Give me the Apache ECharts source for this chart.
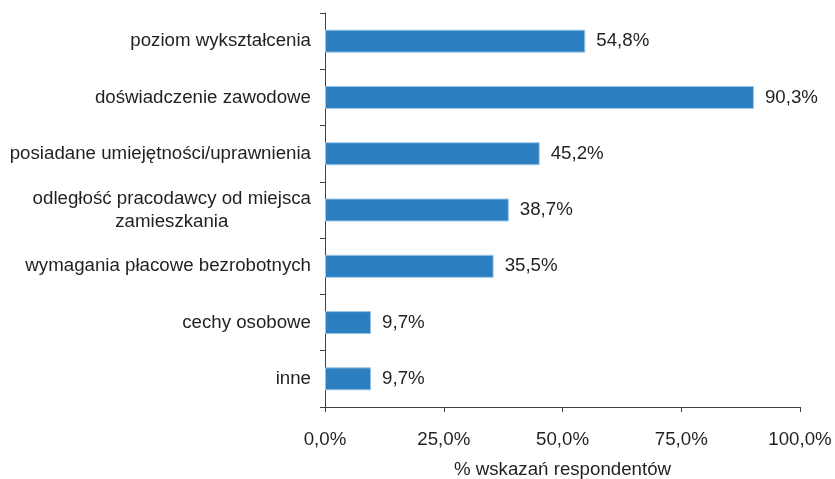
<!DOCTYPE html>
<html>
<head>
<meta charset="utf-8">
<script src="https://cdn.jsdelivr.net/npm/echarts@6/dist/echarts.min.js"></script>
<style>
  html, body { margin: 0; padding: 0; background: #fff; }
  #chart { width: 835px; height: 479px; }
</style>
</head>
<body>
<div id="chart"></div>
<script>
// Kategorie (od góry do dołu)
const categories = [
  'poziom wykształcenia',
  'doświadczenie zawodowe',
  'posiadane umiejętności/uprawnienia',
  'odległość pracodawcy od miejsca\nzamieszkania',
  'wymagania płacowe bezrobotnych',
  'cechy osobowe',
  'inne'
]
const values = [54.8, 90.3, 45.2, 38.7, 35.5, 9.7, 9.7]
const xTicks = [0, 25, 50, 75, 100]
const axisName = '% wskazań respondentów'

const fmt = (v) => v.toFixed(1).replace('.', ',') + '%'
const font = '"Liberation Sans", Arial, sans-serif'
const axisColor = '#404040'
const textColor = '#231f20'
const fs = 18.7

const chart = echarts.init(document.getElementById('chart'))
chart.setOption({
  animation: false,
  backgroundColor: '#ffffff',
  textStyle: { fontFamily: font },
  grid: { left: 325, right: 35, top: 13, bottom: 72, containLabel: false, outerBoundsMode: 'none' },
  xAxis: {
    type: 'value',
    min: xTicks[0],
    max: xTicks[xTicks.length - 1],
    interval: 25,
    name: axisName,
    nameLocation: 'middle',
    nameGap: 53,
    nameTextStyle: { color: textColor, fontSize: fs, fontFamily: font },
    axisLine: { show: true, lineStyle: { color: axisColor, width: 1 } },
    axisTick: { show: true, length: 5, lineStyle: { color: axisColor } },
    axisLabel: { color: textColor, fontSize: fs, margin: 23, fontFamily: font, formatter: (v) => fmt(v) },
    splitLine: { show: false }
  },
  yAxis: {
    type: 'category',
    data: categories,
    inverse: true,
    axisLine: { show: true, lineStyle: { color: axisColor, width: 1 } },
    axisTick: { show: true, length: 5, lineStyle: { color: axisColor } },
    axisLabel: {
      color: textColor,
      fontSize: fs,
      margin: 14,
      fontFamily: font,
      formatter: (v) => v.split('\n').map((s) => '{c|' + s + '}').join('\n'),
      rich: { c: { align: 'center', fontSize: fs, lineHeight: 23, color: textColor, fontFamily: font } }
    },
    splitLine: { show: false }
  },
  series: [{
    type: 'bar',
    data: values,
    barWidth: 23,
    itemStyle: { color: '#2b7fc1', borderColor: '#9cc6e6', borderWidth: 1 },
    label: {
      show: true,
      position: 'right',
      distance: 11,
      color: textColor,
      fontSize: fs,
      fontFamily: font,
      formatter: (p) => fmt(p.value)
    }
  }]
})
</script>
</body>
</html>
